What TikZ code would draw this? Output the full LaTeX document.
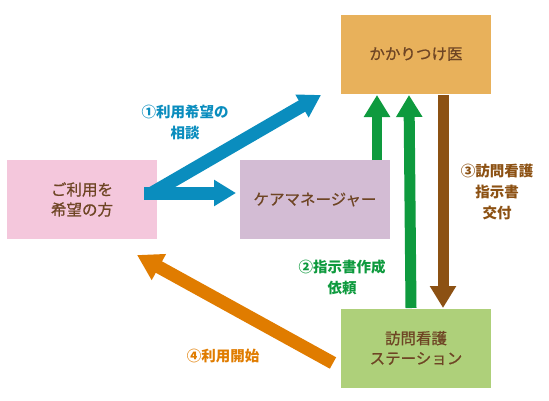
\documentclass[tikz,border=0pt]{standalone}
\usepackage{fontspec}
\setmainfont{Noto Sans CJK JP}
\newfontfamily\boxfont[FakeBold=0.8]{Noto Sans CJK JP}
\usetikzlibrary{arrows.meta}
\definecolor{docC}{HTML}{E8B15B}
\definecolor{cmC}{HTML}{D3BCD4}
\definecolor{pinkC}{HTML}{F4C7DC}
\definecolor{stC}{HTML}{AED07A}
\definecolor{blueC}{HTML}{0A8DBE}
\definecolor{greenC}{HTML}{0E9A3E}
\definecolor{brownC}{HTML}{8C5113}
\definecolor{orangeC}{HTML}{E07C00}
\definecolor{boxtext}{HTML}{6E4524}
\begin{document}
\begin{tikzpicture}[x=1pt,y=-1pt,
  box/.style={minimum width=150pt, minimum height=79pt, inner sep=0pt, text=boxtext,
    font=\boxfont\fontsize{15.5}{20}\selectfont, align=center},
  fatarrow/.style={line width=#1, line cap=butt, -{Triangle[length=22pt,width=25pt]}},
  fatarrow/.default=11pt,
  lbl/.style={font=\bfseries\fontsize{14.5}{21}\selectfont, align=center, inner sep=0pt}
]
\useasboundingbox (0,0) rectangle (549,400);
% boxes
\node[box, fill=docC] (doc) at (416,54) {かかりつけ医};
\node[box, fill=cmC] (cm) at (315,199.5) {ケアマネージャー};
\node[box, fill=pinkC] (user) at (82,199.5) {ご利用を\\希望の方};
\node[box, fill=stC] (st) at (416,348) {訪問看護\\ステーション};
% coordinates for arrow ends
\coordinate (bstart) at (144,193);
\coordinate (bjoin) at (152,193);
\coordinate (btip) at (321,95);
\coordinate (btip2) at (236,193);
\coordinate (g1s) at (377,160);
\coordinate (g1e) at (377,95);
\coordinate (g2s) at (411,308);
\coordinate (g2e) at (409,95);
\coordinate (brs) at (443,95);
\coordinate (bre) at (443,308);
\coordinate (os) at (333,363);
\coordinate (oe) at (137,255);
% arrows
\draw[fatarrow=13pt, blueC] (bjoin) -- (btip);
\draw[fatarrow=13pt, blueC] (bstart) -- (btip2);
\draw[fatarrow=10pt, greenC] (g1s) -- (g1e);
\draw[fatarrow, greenC] (g2s) -- (g2e);
\draw[fatarrow, brownC] (brs) -- (bre);
\draw[line width=13pt, orangeC, -{Triangle[length=25pt,width=28pt]}] (os) -- (oe);
% labels
\node[lbl, text=blueC] (l1) at (185,122) {①利用希望の\\相談};
\node[lbl, text=greenC] (l2) at (342,277) {②指示書作成\\依頼};
\node[lbl, text=brownC] (l3) at (497,192) {③訪問看護\\指示書\\交付};
\node[lbl, text=orangeC] (l4) at (223,356) {④利用開始};
\end{tikzpicture}
\end{document}
